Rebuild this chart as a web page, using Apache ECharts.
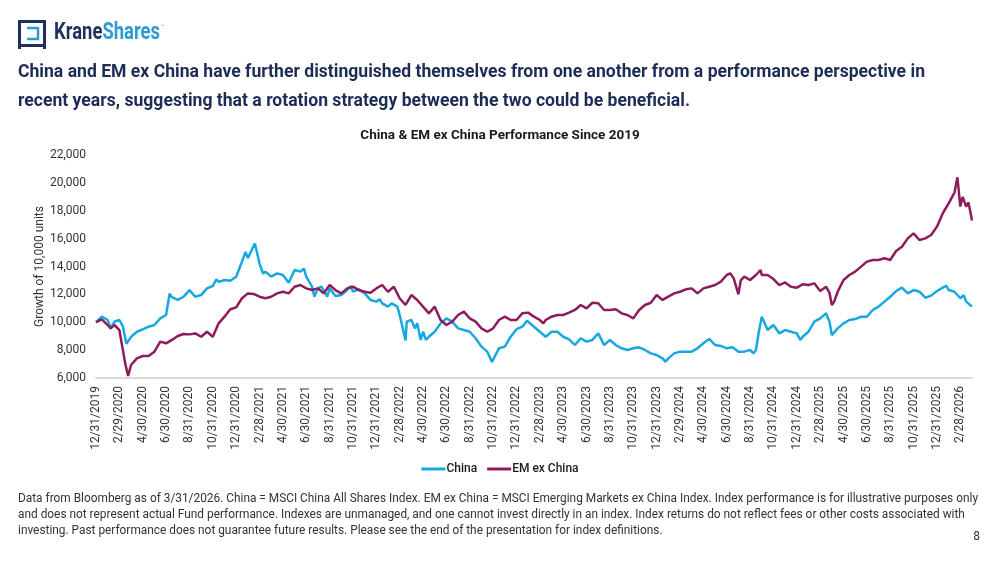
<!DOCTYPE html>
<html>
<head>
<meta charset="utf-8">
<script src="https://cdn.jsdelivr.net/npm/echarts@6/dist/echarts.min.js"></script>
<style>
html,body{margin:0;padding:0;background:#fff;}
#chart{width:1000px;height:563px;}
</style>
</head>
<body>
<div id="chart"></div>
<script>
// x = months since 12/31/2019, y = growth of 10,000 units
var tickLabels = ["12/31/2019","2/29/2020","4/30/2020","6/30/2020","8/31/2020","10/31/2020","12/31/2020","2/28/2021","4/30/2021","6/30/2021","8/31/2021","10/31/2021","12/31/2021","2/28/2022","4/30/2022","6/30/2022","8/31/2022","10/31/2022","12/31/2022","2/28/2023","4/30/2023","6/30/2023","8/31/2023","10/31/2023","12/31/2023","2/29/2024","4/30/2024","6/30/2024","8/31/2024","10/31/2024","12/31/2024","2/28/2025","4/30/2025","6/30/2025","8/31/2025","10/31/2025","12/31/2025","2/28/2026"];

var chinaData = [[0,10000],[0.5,10400],[1,10160],[1.25,9600],[1.6,10050],[2,10160],[2.3,9700],[2.6,8450],[3,8950],[3.5,9320],[4,9490],[4.5,9680],[5,9800],[5.5,10280],[6,10520],[6.3,12050],[6.5,11800],[7,11600],[7.5,11830],[8,12310],[8.5,11830],[9,11950],[9.5,12430],[10,12600],[10.3,13080],[10.5,12900],[11,13030],[11.5,12980],[12,13270],[12.5,14350],[12.8,15050],[13,14600],[13.6,15650],[14,14230],[14.3,13500],[14.5,13630],[15,13270],[15.5,13510],[16,13390],[16.5,12840],[17,13750],[17.5,13630],[17.8,13850],[18,13270],[18.5,12550],[18.7,11840],[19,12430],[19.3,12550],[19.8,11840],[20,12430],[20.5,11880],[21,11950],[21.5,12310],[21.8,12600],[22,12200],[22.5,12360],[23,12070],[23.5,11600],[24,11480],[24.3,11650],[24.5,11360],[25,11120],[25.3,11360],[25.8,11120],[26,10520],[26.2,9800],[26.5,8700],[26.6,10040],[27,10160],[27.3,9560],[27.5,9920],[27.8,8730],[28,9320],[28.25,8730],[28.5,8960],[29,9320],[29.5,9920],[30,10280],[30.5,10040],[31,9560],[31.5,9440],[32,9320],[32.5,8850],[33,8250],[33.5,7890],[33.9,7150],[34.5,8130],[35,8250],[35.5,8960],[36,9500],[36.5,9680],[36.9,10110],[37,10040],[37.5,9680],[38,9320],[38.5,8960],[39,9320],[39.5,9320],[40,8960],[40.5,8770],[41,8370],[41.5,8850],[42,8610],[42.5,8730],[43,9200],[43.5,8370],[44,8730],[44.5,8370],[45,8130],[45.5,8010],[46,8130],[46.5,8200],[47,8010],[47.5,7770],[48,7650],[48.5,7410],[48.75,7170],[49,7410],[49.5,7770],[50,7890],[50.5,7890],[51,7890],[51.5,8130],[52,8490],[52.5,8800],[53,8370],[53.5,8300],[54,8130],[54.5,8200],[55,7890],[55.5,7890],[56,8010],[56.3,7770],[56.5,8000],[56.75,9320],[57,10400],[57.2,10040],[57.5,9440],[58,9800],[58.3,9440],[58.5,9200],[59,9440],[59.5,9320],[60,9200],[60.3,8730],[60.5,8960],[61,9320],[61.5,10040],[62,10280],[62.5,10640],[62.8,10040],[63,9080],[63.1,8960],[63.5,9560],[64,9920],[64.5,10160],[65,10230],[65.5,10400],[66,10400],[66.5,10880],[67,11120],[67.5,11480],[68,11830],[68.5,12240],[69,12480],[69.5,12070],[70,12310],[70.5,12190],[71,11760],[71.5,11910],[72,12240],[72.5,12480],[72.8,12620],[73,12310],[73.5,12190],[74,11720],[74.3,11950],[74.5,11480],[75,11120]];

var emxcData = [[0,10000],[0.5,10210],[1,9800],[1.25,9560],[1.6,9800],[2,9440],[2.2,8490],[2.5,7050],[2.75,6150],[3,6930],[3.5,7410],[4,7580],[4.5,7580],[5,7890],[5.5,8610],[6,8490],[6.5,8730],[7,9010],[7.5,9160],[8,9130],[8.5,9200],[9,8960],[9.5,9320],[10,8960],[10.5,9920],[11,10400],[11.5,10930],[12,11070],[12.5,11720],[13,12070],[13.5,12030],[14,11830],[14.5,11720],[15,11830],[15.5,12070],[16,12190],[16.5,12070],[17,12550],[17.5,12670],[18,12430],[18.5,12310],[19,12430],[19.5,12070],[20,12670],[20.5,12310],[21,12070],[21.5,12430],[22,12550],[22.5,12310],[23,12190],[23.5,12120],[24,12430],[24.5,12670],[25,12190],[25.5,12550],[26,11720],[26.5,11240],[27,11950],[27.5,11600],[28,11120],[28.5,10640],[29,11120],[29.5,10160],[30,9800],[30.5,10040],[31,10520],[31.5,10760],[32,10280],[32.5,10040],[33,9560],[33.5,9320],[34,9560],[34.5,10160],[35,10400],[35.5,10160],[36,10160],[36.5,10640],[37,10690],[37.5,10400],[38,10160],[38.3,9920],[38.5,10160],[39,10400],[39.5,10520],[40,10520],[40.5,10690],[41,10880],[41.5,11240],[42,11000],[42.5,11400],[43,11360],[43.5,10880],[44,10880],[44.5,10930],[45,10640],[45.5,10520],[46,10280],[46.5,10880],[47,11240],[47.5,11400],[48,11950],[48.5,11600],[49,11840],[49.5,12070],[50,12190],[50.5,12360],[51,12430],[51.5,12070],[52,12430],[52.5,12550],[53,12670],[53.5,12910],[54,13390],[54.3,13510],[54.6,13150],[55,12000],[55.2,13000],[55.5,13270],[56,13030],[56.5,13390],[56.9,13750],[57,13390],[57.5,13390],[58,13100],[58.5,12670],[59,12860],[59.5,12550],[60,12480],[60.5,12720],[61,12670],[61.5,12790],[62,12240],[62.5,12550],[62.8,12100],[63,11240],[63.2,11480],[63.5,12190],[64,13030],[64.5,13390],[65,13630],[65.5,13990],[66,14350],[66.5,14470],[67,14470],[67.5,14590],[68,14470],[68.5,15110],[69,15420],[69.5,16020],[70,16380],[70.5,15900],[71,16020],[71.5,16260],[72,16860],[72.5,17820],[73,18530],[73.5,19300],[73.75,20400],[74,18300],[74.2,19000],[74.5,18300],[74.7,18600],[75,17300]];

var seriesNames = ["China", "EM ex China"];
var seriesColors = ["#16A9E1", "#8E1C5C"];

var headline = [
  'China and EM ex China have further distinguished themselves from one another from a performance perspective in',
  'recent years, suggesting that a rotation strategy between the two could be beneficial.'
];
var footnote = [
  'Data from Bloomberg as of 3/31/2026. China = MSCI China All Shares Index. EM ex China = MSCI Emerging Markets ex China Index. Index performance is for illustrative purposes only',
  'and does not represent actual Fund performance. Indexes are unmanaged, and one cannot invest directly in an index. Index returns do not reflect fees or other costs associated with',
  'investing. Past performance does not guarantee future results. Please see the end of the presentation for index definitions.'
];

var BASE = "Roboto, 'Liberation Sans', sans-serif";

var mctx = document.createElement('canvas').getContext('2d');
function textW(t, font) { mctx.font = font; return mctx.measureText(t).width; }

var headFont = 'bold 18px ' + BASE;
var headScale = 907 / textW(headline[0], headFont);
var footFont = '12px ' + BASE;
var footScale = 960 / textW(footnote[0], footFont);
var logoFont = 'bold 23px ' + BASE;
var logoScale = 106 / textW('KraneShares', logoFont);
var kraneW = textW('Krane', logoFont) * logoScale;

function scaledText(x, y, text, font, size, weight, color, sx) {
  return {type: 'text', x: x, y: y, scaleX: sx, originX: 0, originY: 0, silent: true,
    style: {x: 0, y: 0, text: text, fontFamily: BASE, fontSize: size, fontWeight: weight,
      fill: color, align: 'left', verticalAlign: 'middle'}};
}

var graphics = [
  {type: 'rect', shape: {x: 19.5, y: 21.5, width: 25, height: 24}, style: {fill: 'none', stroke: '#1F2F5F', lineWidth: 3}},
  {type: 'polyline', shape: {points: [[27,28],[38,28],[38,39],[27,39]]}, style: {fill: 'none', stroke: '#2E9BD6', lineWidth: 2.5}},
  {type: 'rect', shape: {x: 18, y: 45, width: 3, height: 4}, style: {fill: '#1F2F5F'}},
  {type: 'rect', shape: {x: 43, y: 45, width: 3, height: 4}, style: {fill: '#1F2F5F'}},
  scaledText(54, 33, 'Krane', logoFont, 23, 'bold', '#1F2F5F', logoScale),
  scaledText(54 + kraneW, 33, 'Shares', logoFont, 23, 'bold', '#2E9BD6', logoScale),
  {type: 'text', x: 161, y: 27, silent: true, style: {text: '™', fontFamily: BASE, fontSize: 5, fill: '#2E9BD6', align: 'left', verticalAlign: 'middle'}},
  scaledText(18, 72, headline[0], headFont, 18, 'bold', '#1D2B57', headScale),
  scaledText(18, 101, headline[1], headFont, 18, 'bold', '#1D2B57', headScale),
  scaledText(18, 499, footnote[0], footFont, 12, 'normal', '#333333', footScale),
  scaledText(18, 515, footnote[1], footFont, 12, 'normal', '#333333', footScale),
  scaledText(18, 530.5, footnote[2], footFont, 12, 'normal', '#333333', footScale),
  {type: 'text', x: 980, y: 537, silent: true, style: {text: '8', fontFamily: BASE, fontSize: 12, fill: '#333333', align: 'right', verticalAlign: 'middle'}}
];

var chart = echarts.init(document.getElementById('chart'), null, {renderer: 'canvas'});
chart.setOption({
  backgroundColor: '#ffffff',
  animation: false,
  title: {
    text: 'China & EM ex China Performance Since 2019',
    left: 'center', top: 124,
    textStyle: {fontFamily: BASE, fontSize: 13.5, fontWeight: 'bold', color: '#1a1a1a'}
  },
  legend: {
    data: seriesNames,
    top: 458, left: 'center',
    icon: 'rect', itemWidth: 24, itemHeight: 3, itemGap: 10,
    textStyle: {fontFamily: BASE, fontSize: 12, fontWeight: 500, color: '#1a1a1a', padding: [0,0,0,-4]}
  },
  grid: {left: 96, right: 28, top: 155, bottom: 185, containLabel: false},
  xAxis: {
    type: 'value', min: 0, max: 75, interval: 2,
    axisLine: {show: true, lineStyle: {color: '#d9d9d9', width: 2}},
    axisTick: {show: false},
    splitLine: {show: false},
    axisLabel: {
      rotate: 90, margin: 8, showMaxLabel: false,
      fontFamily: BASE, fontSize: 12, color: '#333333',
      formatter: function (v) { var i = Math.round(v / 2); return (v % 2 === 0 && tickLabels[i]) ? tickLabels[i] : ''; }
    }
  },
  yAxis: {
    type: 'value', min: 6000, max: 22000, interval: 2000,
    name: 'Growth of 10,000 units', nameLocation: 'middle', nameGap: 50, nameRotate: 90,
    nameMoveOverlap: false,
    nameTextStyle: {fontFamily: BASE, fontSize: 12, color: '#333333'},
    axisLine: {show: false}, axisTick: {show: false}, splitLine: {show: false},
    axisLabel: {
      margin: 10, fontFamily: BASE, fontSize: 12, color: '#333333',
      formatter: function (v) { return v.toLocaleString('en-US'); }
    }
  },
  series: [
    {name: seriesNames[0], type: 'line', data: chinaData, showSymbol: false, symbol: 'none',
     lineStyle: {color: seriesColors[0], width: 2.5}, itemStyle: {color: seriesColors[0]}, z: 2},
    {name: seriesNames[1], type: 'line', data: emxcData, showSymbol: false, symbol: 'none',
     lineStyle: {color: seriesColors[1], width: 2.5}, itemStyle: {color: seriesColors[1]}, z: 3}
  ],
  graphic: graphics
});
</script>
</body>
</html>
